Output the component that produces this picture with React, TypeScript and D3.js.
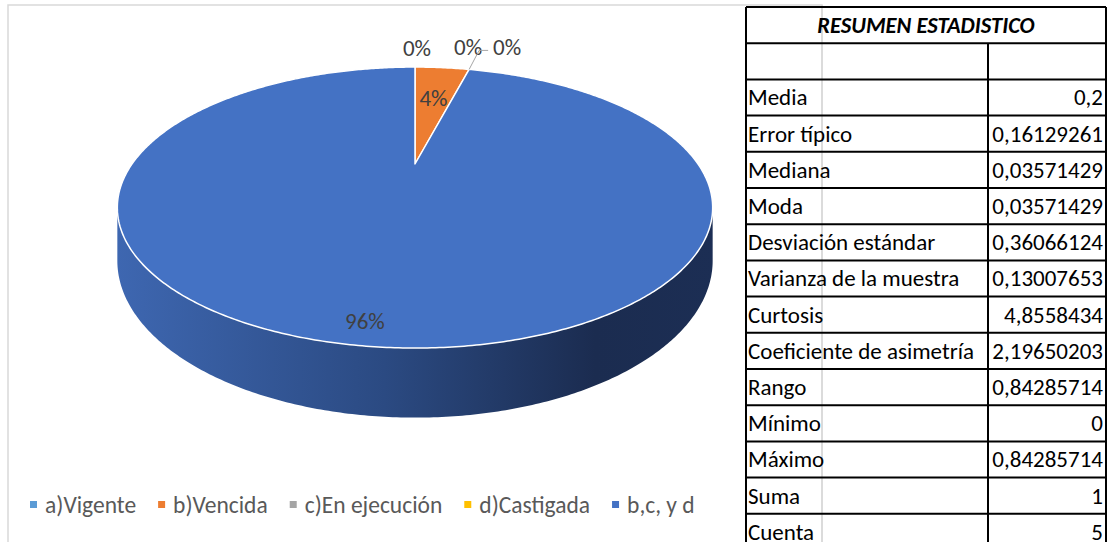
import React, { useEffect, useRef } from "react";
import * as d3 from "d3";

// pie data (as labelled on the chart)
const categories = ["a)Vigente", "b)Vencida", "c)En ejecución", "d)Castigada", "b,c, y d"];
const shares = [0, 4, 0, 0, 96];
const sliceColors = ["#5b9bd5", "#ed7d31", "#a5a5a5", "#ffc000", "#4472c4"];

// statistics table
const tableTitle = "RESUMEN ESTADISTICO";
const statLabels = [
  "Media",
  "Error típico",
  "Mediana",
  "Moda",
  "Desviación estándar",
  "Varianza de la muestra",
  "Curtosis",
  "Coeficiente de asimetría",
  "Rango",
  "Mínimo",
  "Máximo",
  "Suma",
  "Cuenta",
];
const statValues = [
  "0,2",
  "0,16129261",
  "0,03571429",
  "0,03571429",
  "0,36066124",
  "0,13007653",
  "4,8558434",
  "2,19650203",
  "0,84285714",
  "0",
  "0,84285714",
  "1",
  "5",
];

const FONT = "Carlito, Calibri, 'Liberation Sans Narrow', 'DejaVu Sans Condensed', sans-serif";

export default function App() {
  const svgRef = useRef<SVGSVGElement>(null);

  useEffect(() => {
    const svg = d3.select(svgRef.current);
    svg.selectAll("*").remove();

    // chart area border
    svg.append("rect")
      .attr("x", 8).attr("y", 5)
      .attr("width", 814).attr("height", 560)
      .attr("fill", "#fff")
      .attr("stroke", "#d9d9d9").attr("stroke-width", 1.5);

    // --- 3D pie with a little perspective ---
    const cx = 415, cy = 164, A = 283, B = 127, p = 0.31, depth = 48;
    const proj = (a: number, k = 1, h = 0): [number, number] => {
      const w = 1 + p * k * Math.cos(a);
      return [cx + (A * k * Math.sin(a)) / w, cy + (-B * k * Math.cos(a) + h) / w];
    };

    const arcs = d3.pie<number>().sort(null).value(d => d)(shares);

    const defs = svg.append("defs");
    const grad = defs.append("linearGradient")
      .attr("id", "side").attr("gradientUnits", "userSpaceOnUse")
      .attr("x1", cx - A * 1.06).attr("x2", cx + A * 1.06)
      .attr("y1", 0).attr("y2", 0);
    grad.append("stop").attr("offset", "0%").attr("stop-color", "#3e67b1");
    grad.append("stop").attr("offset", "45%").attr("stop-color", "#2b4a82");
    grad.append("stop").attr("offset", "80%").attr("stop-color", "#1b2c50");
    grad.append("stop").attr("offset", "100%").attr("stop-color", "#1c2e54");

    const line = d3.line();
    const g = svg.append("g");
    const sil = Math.acos(-p);
    const step = 0.01;

    // front walls
    arcs.forEach(a => {
      const s = Math.max(a.startAngle, sil);
      const e = Math.min(a.endAngle, 2 * Math.PI - sil);
      if (e <= s) return;
      const angs = d3.range(s, e, step).concat(e);
      const pts = angs.map(t => proj(t, 1, 0))
        .concat(angs.slice().reverse().map(t => proj(t, 1, depth)));
      g.append("path").attr("d", line(pts) + "Z").attr("fill", "url(#side)");
    });

    // top faces
    arcs.forEach((a, i) => {
      if (a.endAngle - a.startAngle <= 0) return;
      const angs = d3.range(a.startAngle, a.endAngle, step).concat(a.endAngle);
      const pts = [proj(0, 0)].concat(angs.map(t => proj(t)));
      g.append("path").attr("d", line(pts) + "Z")
        .attr("fill", sliceColors[i])
        .attr("stroke", "#fff").attr("stroke-width", 1.5)
        .attr("stroke-linejoin", "round");
    });

    // data labels
    const pct = (v: number) => d3.format(".0%")(v / 100);
    const lbl = svg.append("g")
      .attr("font-family", FONT).attr("font-size", 23).attr("fill", "#404040");
    let zeroIdx = 0;
    arcs.forEach((a, i) => {
      const v = shares[i];
      if (v > 0) {
        const mid = (a.startAngle + a.endAngle) / 2;
        const [x, y] = proj(mid, v > 50 ? 0.9 : 0.62);
        lbl.append("text").attr("x", x - (v > 50 ? 6 : 0)).attr("y", y + 8)
          .attr("text-anchor", "middle").text(pct(v));
      } else {
        const [ex, ey] = proj(a.startAngle);
        if (a.startAngle === 0) {
          lbl.append("text").attr("x", ex + 2).attr("y", ey - 11)
            .attr("text-anchor", "middle").text(pct(v));
        } else {
          if (zeroIdx === 0) {
            lbl.append("text").attr("x", ex - 1).attr("y", ey - 14)
              .attr("text-anchor", "middle").text(pct(v));
            lbl.append("path")
              .attr("d", line([[ex, ey], [ex + 10, ey - 19], [ex + 19, ey - 19]]))
              .attr("fill", "none").attr("stroke", "#a6a6a6").attr("stroke-width", 1);
          } else {
            lbl.append("text").attr("x", ex + 38).attr("y", ey - 14)
              .attr("text-anchor", "middle").text(pct(v));
          }
          zeroIdx++;
        }
      }
    });

    // legend
    const leg = svg.append("g")
      .attr("font-family", FONT).attr("font-size", 23.5).attr("fill", "#595959");
    let lx = 30;
    categories.forEach((c, i) => {
      leg.append("rect").attr("x", lx).attr("y", 501).attr("width", 7).attr("height", 7)
        .attr("fill", sliceColors[i]);
      const t = leg.append("text").attr("x", lx + 15).attr("y", 513).text(c);
      const w = (t.node() as SVGTextElement).getComputedTextLength();
      lx += 15 + w + 22;
    });

    // --- statistics table ---
    const tx0 = 746, tx1 = 988, tx2 = 1106;
    const nRows = statLabels.length + 2;
    const y = d3.scaleLinear().domain([0, nRows]).range([7, 7 + nRows * 36.2]);
    const tb = svg.append("g").attr("font-family", FONT).attr("fill", "#000");

    // light border of the chart area, visible through the table
    tb.append("line").attr("x1", 822).attr("x2", 822).attr("y1", 5).attr("y2", 542)
      .attr("stroke", "#d9d9d9").attr("stroke-width", 1.5);

    tb.append("text")
      .attr("x", (tx0 + tx2) / 2).attr("y", y(0) + 26)
      .attr("text-anchor", "middle").attr("font-size", 22.5)
      .attr("font-weight", "bold").attr("font-style", "italic")
      .text(tableTitle);

    statLabels.forEach((s, i) => {
      const r = i + 2;
      tb.append("text").attr("x", tx0 + 2).attr("y", y(r) + 26)
        .attr("font-size", 23).text(s);
      tb.append("text").attr("x", tx2 - 3).attr("y", y(r) + 26)
        .attr("font-size", 23).attr("text-anchor", "end").text(statValues[i]);
    });

    const grid = tb.append("g").attr("stroke", "#000").attr("stroke-width", 2);
    d3.range(0, nRows + 1).forEach(r => {
      grid.append("line").attr("x1", tx0).attr("x2", tx2)
        .attr("y1", y(r)).attr("y2", y(r));
    });
    grid.append("line").attr("x1", tx0).attr("x2", tx0).attr("y1", y(0)).attr("y2", y(nRows));
    grid.append("line").attr("x1", tx2).attr("x2", tx2).attr("y1", y(0)).attr("y2", y(nRows));
    grid.append("line").attr("x1", tx1).attr("x2", tx1).attr("y1", y(1)).attr("y2", y(nRows));
  }, []);

  return (
    <svg
      ref={svgRef}
      width={1108}
      height={542}
      style={{ position: "absolute", left: 0, top: 0, background: "#fff" }}
    />
  );
}
